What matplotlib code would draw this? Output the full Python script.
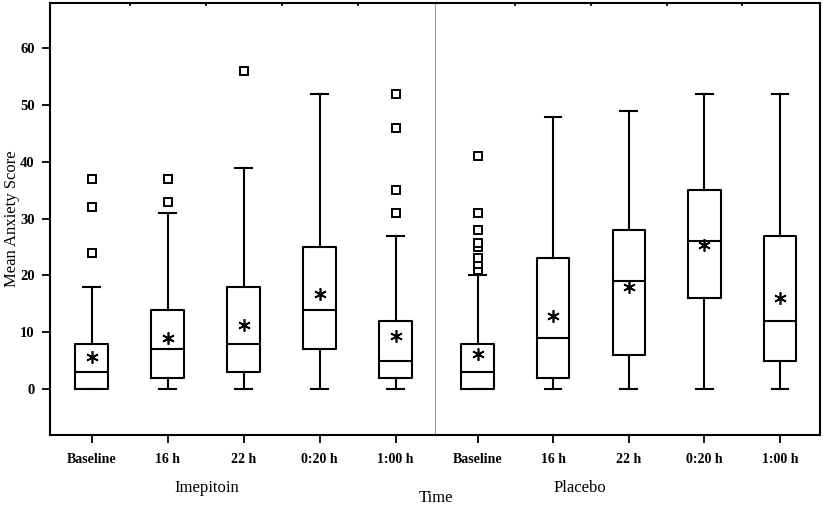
import matplotlib
matplotlib.use('Agg')
import matplotlib.pyplot as plt

categories = ['Baseline', '16 h', '22 h', '0:20 h', '1:00 h']
groups = ['Imepitoin', 'Placebo']

imep_q1 = [0, 2, 3, 7, 2]
imep_med = [3, 7, 8, 14, 5]
imep_q3 = [8, 14, 18, 25, 12]
imep_whislo = [0, 0, 0, 0, 0]
imep_whishi = [18, 31, 39, 52, 27]
imep_mean = [5.6, 8.9, 11.3, 16.8, 9.3]
imep_fliers = [[24, 32, 37], [33, 37], [56], [], [31, 35, 46, 52]]

plac_q1 = [0, 2, 6, 16, 5]
plac_med = [3, 9, 19, 26, 12]
plac_q3 = [8, 23, 28, 35, 27]
plac_whislo = [0, 0, 0, 0, 0]
plac_whishi = [20, 48, 49, 52, 52]
plac_mean = [6.2, 12.9, 17.9, 25.3, 16.0]
plac_fliers = [[21, 22, 23, 25, 25.8, 28, 31, 41], [], [], [], []]

yticks = [0, 10, 20, 30, 40, 50, 60]

plt.rcParams['font.family'] = ['Liberation Serif', 'DejaVu Serif']

W, H = 829, 507
fig = plt.figure(figsize=(W / 100, H / 100), dpi=100)

def fx(px):
    return px / W

def fy(py):
    return 1 - py / H

left, mid, right = 50, 436, 820
top, bottom = 3, 435
ax1 = fig.add_axes([fx(left), fy(bottom), fx(mid - left), (bottom - top) / H])
ax2 = fig.add_axes([fx(mid), fy(bottom), fx(right - mid), (bottom - top) / H], sharey=ax1)

def make_stats(q1, med, q3, lo, hi, mean, fliers):
    out = []
    for i in range(len(q1)):
        out.append(dict(q1=q1[i], med=med[i], q3=q3[i], whislo=lo[i], whishi=hi[i],
                        mean=mean[i], fliers=fliers[i]))
    return out

lw = 1.5
common = dict(
    positions=range(len(categories)), widths=0.43, capwidths=0.22,
    showmeans=True, patch_artist=False,
    boxprops=dict(color='black', linewidth=lw),
    whiskerprops=dict(color='black', linewidth=lw),
    capprops=dict(color='black', linewidth=lw),
    medianprops=dict(color='black', linewidth=lw),
    meanprops=dict(marker=(6, 2, 0), markersize=9, markeredgecolor='black',
                   markerfacecolor='black', markeredgewidth=1.2, linestyle='none'),
    flierprops=dict(marker='s', markersize=6, markerfacecolor='white',
                    markeredgecolor='black', markeredgewidth=1.4, linestyle='none'),
)

ax1.bxp(make_stats(imep_q1, imep_med, imep_q3, imep_whislo, imep_whishi, imep_mean, imep_fliers), **common)
ax2.bxp(make_stats(plac_q1, plac_med, plac_q3, plac_whislo, plac_whishi, plac_mean, plac_fliers), **common)

for ax in (ax1, ax2):
    ax.set_xlim(-0.55, 4.53)
    ax.set_xticks(range(len(categories)))
    ax.set_xticklabels(categories, fontsize=10, fontweight='bold')
    ax.set_xticks([0.5, 1.5, 2.5, 3.5], minor=True)
    ax.tick_params(axis='x', which='major', direction='out', length=6, width=1.3, pad=7)
    ax.tick_params(axis='x', which='minor', bottom=False, top=True, direction='in', length=2, width=1.2)
    for s in ax.spines.values():
        s.set_linewidth(1.5)
        s.set_color('black')

ax1.set_ylim(-8.1, 68)
ax1.set_yticks(yticks)
ax1.set_yticklabels([str(v) for v in yticks], fontsize=10.5, fontweight='bold')
ax1.tick_params(axis='y', direction='out', length=6, width=1.3, pad=5)
ax1.spines['right'].set_color('#8c8c8c')
ax1.spines['right'].set_linewidth(1.3)
ax2.spines['left'].set_visible(False)
ax2.tick_params(axis='y', left=False, labelleft=False)

ax1.set_ylabel('Mean Anxiety Score', fontsize=12, va='center')
ax1.yaxis.set_label_coords((12 - left) / (mid - left), 0.5)

fig.text(fx(207), fy(488), groups[0], ha='center', va='center', fontsize=12)
fig.text(fx(580), fy(488), groups[1], ha='center', va='center', fontsize=12)
fig.text(fx(436), fy(498), 'Time', ha='center', va='center', fontsize=12)

fig.savefig('out.png', dpi=100)
